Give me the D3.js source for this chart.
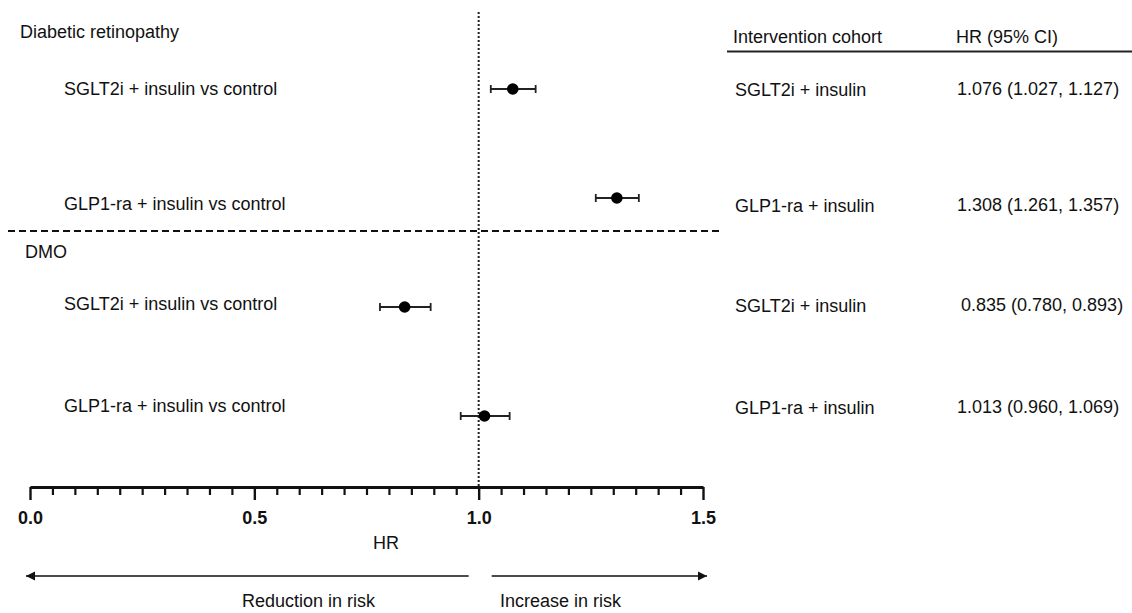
<!DOCTYPE html>
<html>
<head>
<meta charset="utf-8">
<script src="https://cdn.jsdelivr.net/npm/d3@7"></script>
<style>
  html, body { margin: 0; padding: 0; background: #fff; }
  svg { display: block; font-family: "Liberation Sans", Arial, sans-serif; }
</style>
</head>
<body>
<svg id="chart" width="1132" height="613"></svg>
<script>
// ---- data ----
const groups = ["Diabetic retinopathy", "DMO"];
const comparisons = ["SGLT2i + insulin vs control", "GLP1-ra + insulin vs control",
                     "SGLT2i + insulin vs control", "GLP1-ra + insulin vs control"];
const cohorts = ["SGLT2i + insulin", "GLP1-ra + insulin", "SGLT2i + insulin", "GLP1-ra + insulin"];
const hr    = [1.076, 1.308, 0.835, 1.013];
const lower = [1.027, 1.261, 0.780, 0.960];
const upper = [1.127, 1.357, 0.893, 1.069];
const hrText = ["1.076 (1.027, 1.127)", "1.308 (1.261, 1.357)", "0.835 (0.780, 0.893)", "1.013 (0.960, 1.069)"];
const majorTicks = [0, 0.5, 1.0, 1.5];
const tickLabels = ["0.0", "0.5", "1.0", "1.5"];
const headers = ["Intervention cohort", "HR (95% CI)"];
const axisTitle = "HR";
const directionLabels = ["Reduction in risk", "Increase in risk"];

// ---- layout ----
const svg = d3.select("#chart");
const axisY = 487;
const x = d3.scaleLinear().domain([0, 1.5]).range([30, 703]);
const rows = d3.range(hr.length);
const y = d3.scalePoint().domain(rows).range([89, 416]);
const labelNudge = [-0.5, 6, -3, -10];   // text rows sit slightly off the marker rows
const ly = i => y(i) + labelNudge[i];
const FS = 18;

// reference line at HR = 1
svg.append("line")
  .attr("x1", x(1)).attr("x2", x(1))
  .attr("y1", 12).attr("y2", axisY)
  .attr("stroke", "#222").attr("stroke-width", 2)
  .attr("stroke-dasharray", "2,2");

// section separator
svg.append("line")
  .attr("x1", 8).attr("x2", 723)
  .attr("y1", 231).attr("y2", 231)
  .attr("stroke", "#111").attr("stroke-width", 1.8)
  .attr("stroke-dasharray", "7,4");

// axis: minor ticks
const minor = d3.range(0, 31).map(i => i * 0.05).filter(v => !majorTicks.some(m => Math.abs(m - v) < 1e-9));
svg.append("g")
  .attr("transform", `translate(0,${axisY})`)
  .call(d3.axisBottom(x).tickValues(minor).tickSize(8).tickSizeOuter(0).tickFormat(""))
  .call(g => g.select(".domain").remove())
  .call(g => g.selectAll(".tick line").attr("stroke", "#111").attr("stroke-width", 2.2));

// axis: major ticks with labels
svg.append("g")
  .attr("transform", `translate(0,${axisY})`)
  .call(d3.axisBottom(x).tickValues(majorTicks).tickSize(13).tickSizeOuter(0).tickPadding(11)
        .tickFormat((d, i) => tickLabels[i]))
  .call(g => g.select(".domain").attr("stroke", "#111").attr("stroke-width", 2.8))
  .call(g => g.selectAll(".tick line").attr("stroke", "#111").attr("stroke-width", 2.4))
  .call(g => g.selectAll(".tick text")
        .attr("font-family", "'Liberation Sans', Arial, sans-serif")
        .attr("font-size", FS).attr("font-weight", "bold").attr("fill", "#111"));

// axis title
svg.append("text").attr("x", 386).attr("y", 543).attr("dy", "0.35em")
  .attr("text-anchor", "middle").attr("font-size", FS).attr("fill", "#111").text(axisTitle);

// CI whiskers
const ci = svg.append("g");
ci.selectAll("line.ci").data(rows).join("line").attr("class", "ci")
  .attr("x1", i => x(lower[i])).attr("x2", i => x(upper[i]))
  .attr("y1", i => y(i)).attr("y2", i => y(i))
  .attr("stroke", "#222").attr("stroke-width", 1.8);
ci.selectAll("line.capl").data(rows).join("line").attr("class", "capl")
  .attr("x1", i => x(lower[i])).attr("x2", i => x(lower[i]))
  .attr("y1", i => y(i) - 4).attr("y2", i => y(i) + 4)
  .attr("stroke", "#222").attr("stroke-width", 1.8);
ci.selectAll("line.capu").data(rows).join("line").attr("class", "capu")
  .attr("x1", i => x(upper[i])).attr("x2", i => x(upper[i]))
  .attr("y1", i => y(i) - 4).attr("y2", i => y(i) + 4)
  .attr("stroke", "#222").attr("stroke-width", 1.8);
ci.selectAll("circle").data(rows).join("circle")
  .attr("cx", i => x(hr[i])).attr("cy", i => y(i)).attr("r", 5.8).attr("fill", "#000");

// left labels
svg.append("text").attr("x", 20).attr("y", 32).attr("dy", "0.35em")
  .attr("font-size", FS).attr("fill", "#111").text(groups[0]);
svg.append("text").attr("x", 25).attr("y", 252).attr("dy", "0.35em")
  .attr("font-size", FS).attr("fill", "#111").text(groups[1]);
svg.append("g").selectAll("text").data(rows).join("text")
  .attr("x", 64).attr("y", i => ly(i)).attr("dy", "0.35em")
  .attr("font-size", FS).attr("fill", "#111").text(i => comparisons[i]);

// right table
svg.append("text").attr("x", 733).attr("y", 37).attr("dy", "0.35em")
  .attr("font-size", FS).attr("fill", "#111").text(headers[0]);
svg.append("text").attr("x", 956).attr("y", 37).attr("dy", "0.35em")
  .attr("font-size", FS).attr("fill", "#111").text(headers[1]);
svg.append("line").attr("x1", 727).attr("x2", 1132).attr("y1", 51.5).attr("y2", 51.5)
  .attr("stroke", "#222").attr("stroke-width", 2);
svg.append("g").selectAll("text").data(rows).join("text")
  .attr("x", 735).attr("y", i => ly(i) + 1.5).attr("dy", "0.35em")
  .attr("font-size", FS).attr("fill", "#111").text(i => cohorts[i]);
svg.append("g").selectAll("text").data(rows).join("text")
  .attr("x", i => i === 2 ? 961 : 957).attr("y", i => ly(i) + 0.5).attr("dy", "0.35em")
  .attr("font-size", FS).attr("fill", "#111").text(i => hrText[i]);

// direction arrows
const arrowY = 576;
function arrow(x1, x2) {
  svg.append("line").attr("x1", x1).attr("x2", x2).attr("y1", arrowY).attr("y2", arrowY)
    .attr("stroke", "#111").attr("stroke-width", 1.6);
  const dir = Math.sign(x2 - x1);
  svg.append("path")
    .attr("d", `M${x2},${arrowY} L${x2 - dir * 9},${arrowY - 4.5} L${x2 - dir * 9},${arrowY + 4.5} Z`)
    .attr("fill", "#111");
}
arrow(x(1) - 10, x(0) - 4);
arrow(x(1) + 13, x(1.5) + 4);
svg.append("text").attr("x", 242).attr("y", 601).attr("dy", "0.35em")
  .attr("font-size", FS).attr("fill", "#111").text(directionLabels[0]);
svg.append("text").attr("x", 500).attr("y", 601).attr("dy", "0.35em")
  .attr("font-size", FS).attr("fill", "#111").text(directionLabels[1]);
</script>
</body>
</html>
